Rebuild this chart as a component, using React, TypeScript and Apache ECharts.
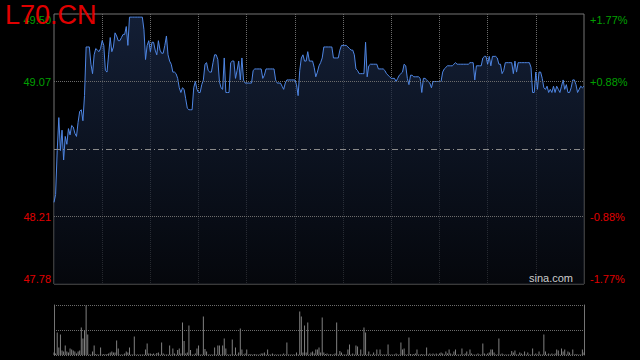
import React, { useEffect, useRef } from "react";
import * as echarts from "echarts";

const symbolName = "L70.CN";
const watermark = "sina.com";
const prevClose = 48.64;
const priceMin = 47.78;
const priceMax = 49.5;
const priceTicks = [47.78, 48.21, 49.07, 49.5];
const priceTickLabels = ["47.78", "48.21", "49.07", "49.50"];
const pctTickLabels = ["-1.77%", "-0.88%", "+0.88%", "+1.77%"];
const priceGuides = [48.21, 49.07];

const prices = [
  48.30, 48.35, 48.63, 48.84, 48.63, 48.76, 48.57, 48.72, 48.67, 48.77,
  48.73, 48.79, 48.78, 48.74, 48.72, 48.81, 48.88, 48.89, 48.82, 48.98,
  49.29, 49.29, 49.29, 49.18, 49.12, 49.24, 49.28, 49.27, 49.26, 49.28,
  49.33, 49.30, 49.14, 49.13, 49.24, 49.35, 49.26, 49.29, 49.38, 49.36,
  49.33, 49.33, 49.35, 49.37, 49.37, 49.42, 49.30, 49.48, 49.48, 49.48,
  49.48, 49.48, 49.48, 49.48, 49.48, 49.48, 49.40, 49.21, 49.30, 49.33,
  49.26, 49.32, 49.32, 49.27, 49.24, 49.33, 49.27, 49.25, 49.25, 49.30,
  49.36, 49.24, 49.20, 49.18, 49.13, 49.13, 49.12, 49.09, 49.03, 49.00,
  49.03, 49.02, 48.96, 48.90, 48.89, 48.89, 48.89, 49.03, 49.07, 49.02,
  49.00, 49.00, 49.05, 49.08, 49.18, 49.19, 49.14, 49.13, 49.13, 49.19,
  49.24, 49.24, 49.21, 49.07, 49.03, 49.02, 49.22, 49.00, 49.00, 49.00,
  49.19, 49.20, 49.20, 49.09, 49.14, 49.20, 49.08, 49.22, 49.08, 49.06,
  49.06, 49.06, 49.06, 49.06, 49.14, 49.15, 49.15, 49.15, 49.15, 49.15,
  49.09, 49.11, 49.15, 49.15, 49.15, 49.15, 49.15, 49.15, 49.08, 49.06,
  49.06, 49.06, 49.04, 49.02, 49.06, 49.08, 49.08, 49.08, 49.08, 49.08,
  49.08, 49.05, 48.98, 49.14, 49.22, 49.24, 49.20, 49.20, 49.26, 49.20,
  49.20, 49.20, 49.16, 49.10, 49.13, 49.17, 49.19, 49.22, 49.29, 49.29,
  49.29, 49.29, 49.29, 49.29, 49.22, 49.22, 49.22, 49.22, 49.27, 49.30,
  49.30, 49.30, 49.30, 49.29, 49.28, 49.27, 49.27, 49.24, 49.15, 49.14,
  49.12, 49.12, 49.12, 49.12, 49.32, 49.10, 49.17, 49.18, 49.18, 49.18,
  49.18, 49.18, 49.15, 49.15, 49.15, 49.15, 49.14, 49.12, 49.11, 49.10,
  49.09, 49.09, 49.09, 49.07, 49.09, 49.11, 49.12, 49.13, 49.18, 49.17,
  49.09, 49.05, 49.11, 49.11, 49.10, 49.10, 49.10, 49.10, 49.09, 49.00,
  49.09, 49.09, 49.08, 49.07, 49.06, 49.03, 49.07, 49.07, 49.07, 49.07,
  49.07, 49.07, 49.13, 49.15, 49.16, 49.17, 49.17, 49.17, 49.17, 49.18,
  49.19, 49.18, 49.18, 49.18, 49.18, 49.18, 49.18, 49.18, 49.18, 49.19,
  49.19, 49.19, 49.08, 49.17, 49.17, 49.17, 49.17, 49.22, 49.23, 49.23,
  49.18, 49.23, 49.17, 49.23, 49.23, 49.23, 49.22, 49.18, 49.18, 49.12,
  49.14, 49.19, 49.19, 49.19, 49.19, 49.19, 49.12, 49.20, 49.13, 49.19,
  49.19, 49.19, 49.19, 49.19, 49.19, 49.19, 49.19, 49.16, 49.00, 49.00,
  49.13, 49.02, 49.13, 49.13, 49.09, 49.03, 49.02, 49.04, 49.00, 49.02,
  49.00, 49.04, 49.00, 49.04, 49.02, 49.00, 49.04, 49.08, 49.02, 49.05,
  49.00, 49.00, 49.03, 49.08, 49.08, 49.05, 49.00, 49.02, 49.04, 49.03,
  49.04,
];

const volumes = [
  5, 3, 45, 15, 41, 9, 7, 19, 7, 5,
  13, 11, 9, 7, 3, 7, 9, 55, 33, 49,
  99, 41, 1, 1, 7, 19, 2, 1, 1, 15,
  1, 2, 1, 2, 3, 5, 7, 5, 5, 29,
  13, 1, 1, 1, 3, 7, 5, 15, 1, 1,
  37, 1, 1, 1, 1, 1, 1, 11, 23, 3,
  3, 2, 3, 1, 4, 5, 1, 25, 3, 1,
  1, 1, 19, 1, 13, 3, 1, 10, 13, 3,
  65, 28, 3, 5, 59, 10, 1, 1, 3, 13,
  19, 1, 1, 77, 12, 7, 1, 1, 1, 1,
  15, 1, 19, 19, 1, 19, 33, 13, 1, 1,
  1, 31, 1, 15, 1, 5, 53, 11, 1, 3,
  11, 1, 2, 1, 1, 2, 1, 1, 1, 3,
  3, 5, 1, 11, 1, 1, 3, 1, 1, 1,
  1, 1, 1, 3, 1, 25, 1, 1, 1, 1,
  1, 5, 1, 87, 77, 5, 59, 5, 65, 1,
  5, 7, 3, 11, 11, 15, 5, 75, 5, 2,
  3, 1, 2, 1, 1, 3, 65, 1, 8, 5,
  1, 1, 1, 11, 21, 1, 3, 1, 19, 17,
  1, 11, 1, 55, 45, 1, 7, 1, 1, 5,
  1, 11, 1, 11, 1, 1, 1, 1, 21, 1,
  1, 1, 1, 3, 1, 1, 25, 11, 13, 1,
  1, 35, 2, 1, 2, 3, 11, 1, 1, 2,
  1, 1, 15, 1, 3, 1, 3, 1, 3, 1,
  3, 5, 3, 1, 7, 3, 11, 3, 1, 7,
  11, 1, 1, 1, 13, 1, 3, 7, 1, 11,
  3, 1, 1, 1, 3, 1, 1, 23, 3, 1,
  3, 5, 11, 11, 5, 1, 1, 33, 1, 3,
  1, 1, 1, 1, 1, 8, 5, 9, 1, 1,
  5, 3, 1, 7, 1, 5, 1, 1, 13, 1,
  3, 1, 7, 1, 1, 41, 7, 1, 3, 1,
  3, 1, 3, 11, 9, 1, 13, 7, 11, 1,
  7, 5, 1, 11, 1, 2, 1, 1, 1, 11,
  5,
];

const volumeMax = 100;
const minuteSlots = prices.map((_, i) => String(i));

const UP = "#00a000";
const DOWN = "#e00000";
const FRAME = "#747474";
const GRIDC = "#6c6c6c";
const FONT = "Liberation Sans, Arial, sans-serif";

export default function App() {
  const ref = useRef<HTMLDivElement>(null);

  useEffect(() => {
    document.body.style.margin = "0";
    document.body.style.background = "#000";
    if (!ref.current) return;
    const chart = echarts.init(ref.current, undefined, { renderer: "svg" });
    const last = minuteSlots.length - 1;
    const vSplit = (i: number) => i > 0 && i < last && i % 30 === 0;
    const colorFor = (v: any) => (Number(v) > prevClose ? UP : DOWN);

    chart.setOption({
      animation: false,
      backgroundColor: "#000",
      grid: [
        { left: 54, top: 14, width: 530, height: 270, show: true, borderColor: FRAME, borderWidth: 1 },
        { left: 54, top: 305, width: 530, height: 50 },
      ],
      xAxis: [
        {
          type: "category",
          gridIndex: 0,
          data: minuteSlots,
          boundaryGap: false,
          axisLine: { show: false },
          axisTick: { show: false },
          axisLabel: { show: false },
          splitLine: { show: true, interval: (i: number) => vSplit(i), lineStyle: { color: GRIDC, type: "dotted", width: 1 } },
        },
        {
          type: "category",
          gridIndex: 1,
          data: minuteSlots,
          boundaryGap: false,
          axisLine: { show: false },
          axisTick: { show: false },
          axisLabel: { show: false },
          splitLine: { show: false },
        },
      ],
      yAxis: [
        {
          type: "value",
          gridIndex: 0,
          position: "left",
          min: priceMin,
          max: priceMax,
          axisLine: { show: false },
          axisTick: { show: false },
          splitLine: { show: false },
          axisLabel: {
            customValues: priceTicks,
            fontSize: 11,
            fontFamily: FONT,
            margin: 3,
            color: colorFor,
            verticalAlignMinLabel: "bottom",
            verticalAlignMaxLabel: "top",
            formatter: (v: number) => {
              const k = priceTicks.findIndex((t) => Math.abs(t - v) < 1e-6);
              return k >= 0 ? priceTickLabels[k] : "";
            },
          },
        },
        {
          type: "value",
          gridIndex: 0,
          position: "right",
          min: priceMin,
          max: priceMax,
          axisLine: { show: false },
          axisTick: { show: false },
          splitLine: { show: false },
          axisLabel: {
            customValues: priceTicks,
            fontSize: 11,
            fontFamily: FONT,
            margin: 6,
            color: colorFor,
            verticalAlignMinLabel: "bottom",
            verticalAlignMaxLabel: "top",
            formatter: (v: number) => {
              const k = priceTicks.findIndex((t) => Math.abs(t - v) < 1e-6);
              return k >= 0 ? pctTickLabels[k] : "";
            },
          },
        },
        {
          type: "value",
          gridIndex: 1,
          position: "left",
          min: 0,
          max: volumeMax,
          interval: volumeMax / 2,
          axisLine: { show: true, lineStyle: { color: FRAME } },
          axisTick: { show: false },
          axisLabel: { show: false },
          splitLine: { show: true, lineStyle: { color: GRIDC, type: "dotted" } },
        },
        {
          type: "value",
          gridIndex: 1,
          position: "right",
          min: 0,
          max: volumeMax,
          axisLine: { show: true, lineStyle: { color: FRAME } },
          axisTick: { show: false },
          axisLabel: { show: false },
          splitLine: { show: false },
        },
      ],
      series: [
        {
          type: "line",
          xAxisIndex: 0,
          yAxisIndex: 0,
          data: prices,
          symbol: "none",
          lineStyle: { color: "#4f86e3", width: 1 },
          areaStyle: {
            origin: "start",
            color: new echarts.graphic.LinearGradient(0, 0, 0, 1, [
              { offset: 0, color: "#1b2b4b" },
              { offset: 1, color: "#070a11" },
            ]),
          },
          markLine: {
            silent: true,
            symbol: "none",
            label: { show: false },
            data: [
              ...priceGuides.map((g) => ({ yAxis: g, lineStyle: { color: GRIDC, type: "dotted", width: 1 } })),
              { yAxis: prevClose, lineStyle: { color: "#8a8a8a", type: [6, 3, 1, 3], width: 1 } },
            ],
          },
          z: 3,
        },
        {
          type: "bar",
          xAxisIndex: 1,
          yAxisIndex: 2,
          data: volumes,
          barWidth: 1,
          itemStyle: { color: "#808080" },
        },
      ],
      graphic: [
        {
          type: "text",
          left: 5,
          top: 1,
          z: 10,
          style: { text: symbolName, fill: "#e00000", font: `27px ${FONT}` },
        },
        {
          type: "text",
          right: 67,
          top: 272,
          z: 10,
          style: { text: watermark, fill: "#cccccc", font: `11px ${FONT}` },
        },
      ],
    });
    return () => chart.dispose();
  }, []);

  return <div ref={ref} style={{ position: "fixed", left: 0, top: 0, width: 640, height: 360, background: "#000" }} />;
}
